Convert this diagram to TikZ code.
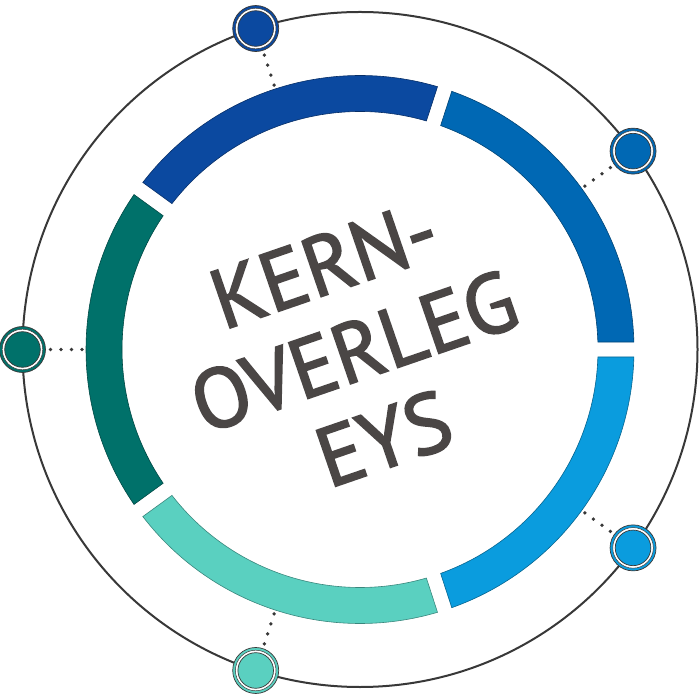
\documentclass[tikz,border=0pt]{standalone}
\usepackage{fontspec}
\setmainfont{PT Sans}
\newfontface\titlefont{PT Sans}[FakeBold=2.2]
\definecolor{cA}{HTML}{0068B4}
\definecolor{cB}{HTML}{0B49A0}
\definecolor{cC}{HTML}{00716A}
\definecolor{cD}{HTML}{5AD0C0}
\definecolor{cE}{HTML}{0A9CDE}
\definecolor{ringgray}{HTML}{383838}
\definecolor{txt}{HTML}{4A4645}
\tikzset{
  segbox/.style={fill=#1, draw=#1!65!black, line width=0.6},
  knob/.style={fill=#1, draw=ringgray, line width=0.7},
  dotmark/.style={fill=ringgray}
}
\begin{document}
\begin{tikzpicture}[x=1pt,y=1pt]
\useasboundingbox (-360,-350.5) rectangle (340,349.5);
\draw[line width=2, color=ringgray] (0,0) circle[radius=337.5];
\pgfmathsetmacro{\dO}{asin(7.5/274)}
\pgfmathsetmacro{\dI}{asin(7.5/238)}
\foreach \s/\c in {0/cA,72/cB,144/cC,216/cD,288/cE}{
  \pgfmathsetmacro{\aa}{\s+\dO}
  \pgfmathsetmacro{\ab}{\s+72-\dO}
  \pgfmathsetmacro{\ba}{\s+72-\dI}
  \pgfmathsetmacro{\bb}{\s+\dI}
  \path[segbox=\c] (\aa:274) arc[start angle=\aa, end angle=\ab, radius=274]
     -- (\ba:238) arc[start angle=\ba, end angle=\bb, radius=238] -- cycle;
}
\foreach \a/\c in {36/cA,108/cB,180/cC,252/cD,324/cE}{
  \foreach \r in {278,288.5,299,309.5}{
    \fill[dotmark] (\a:\r) circle[radius=1.9];
  }
  \path[knob=\c] (\a:337.5) circle[radius=23];
  \path[fill=white, draw=ringgray, line width=0.5] (\a:337.5) circle[radius=20.3];
  \path[knob=\c] (\a:337.5) circle[radius=17.8];
}
\node[text=txt, rotate=19, align=center, font=\titlefont\fontsize{84}{92}\selectfont, inner sep=0] (title) at (-6,-2) {KERN-\\OVERLEG\\EYS};
\end{tikzpicture}
\end{document}
